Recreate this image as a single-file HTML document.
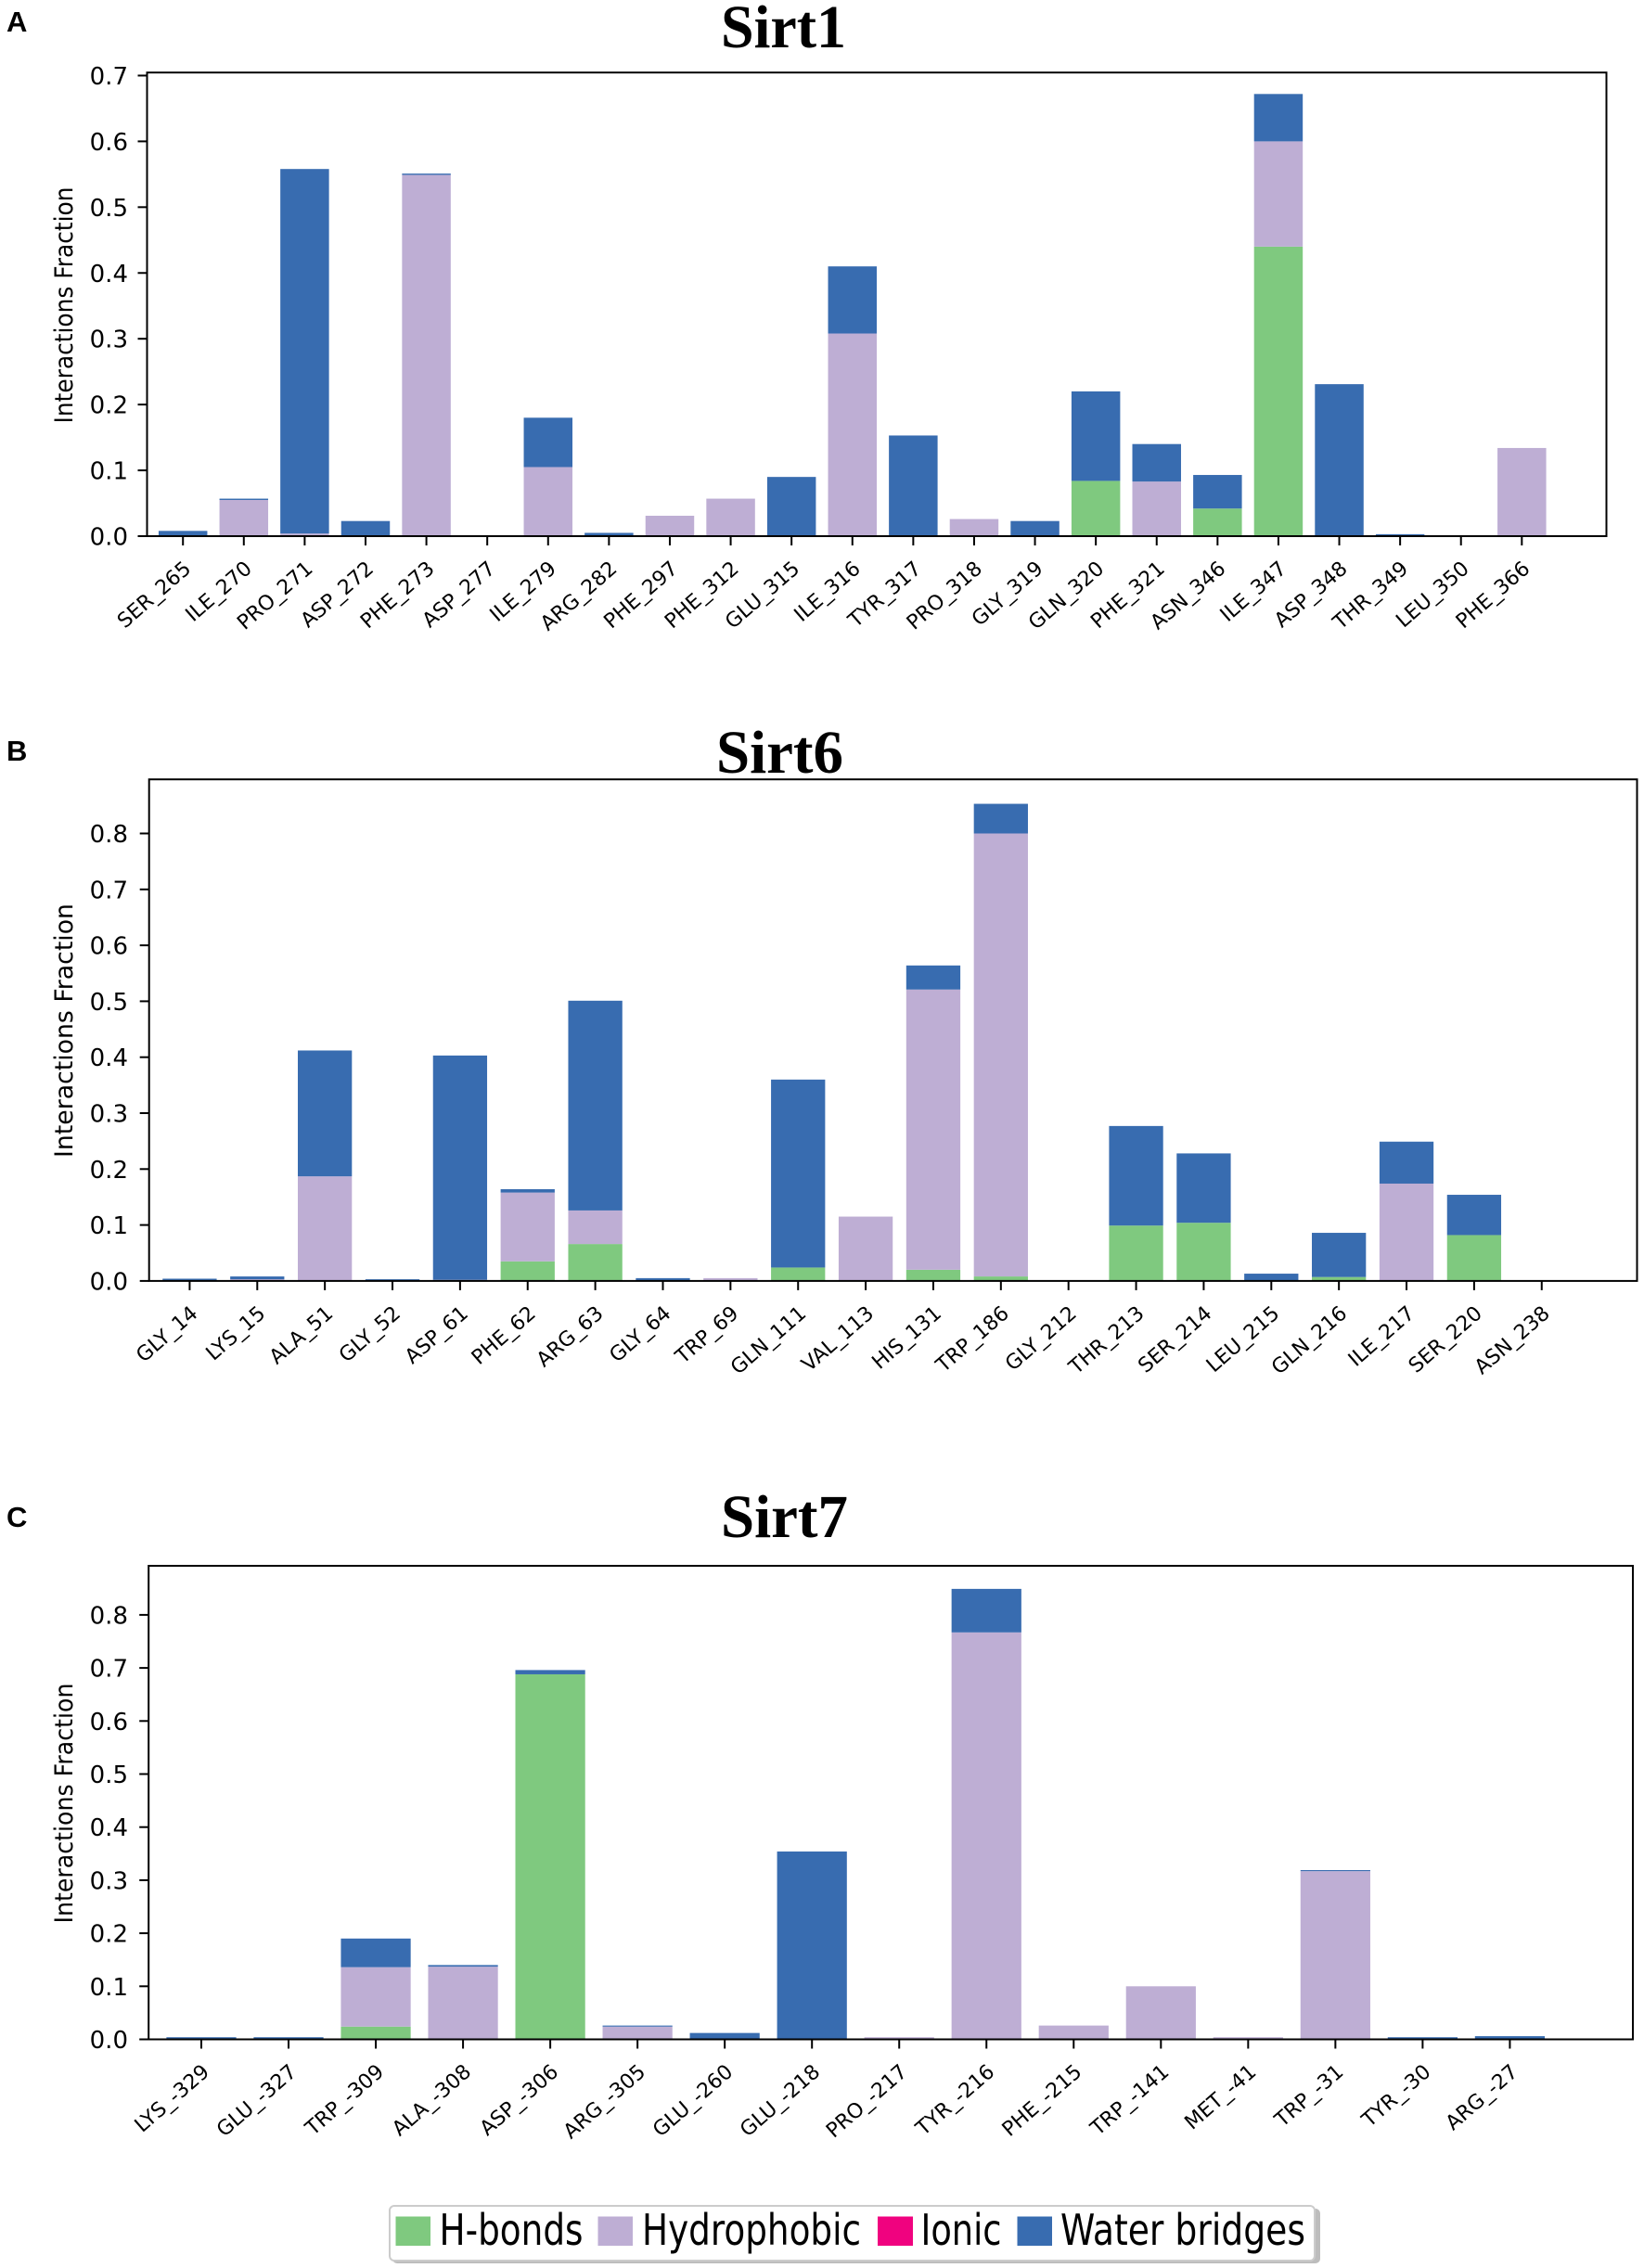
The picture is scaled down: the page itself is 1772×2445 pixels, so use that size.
<!DOCTYPE html>
<html lang="en">
<head>
<meta charset="utf-8">
<title>Sirt1, Sirt6 and Sirt7 interaction fractions</title>
<style>
html,body{margin:0;padding:0;background:#fff;}
svg{display:block;}
text{fill:#000;}
.title{font-family:"Liberation Serif",serif;font-weight:bold;font-size:66px;}
.letter{font-family:"Liberation Sans",sans-serif;font-weight:bold;font-size:31px;}
.tick{font-family:"DejaVu Sans",sans-serif;font-size:26px;}
.xtick{font-family:"DejaVu Sans",sans-serif;font-size:22px;}
.ylabel{font-family:"DejaVu Sans",sans-serif;font-size:27px;}
.legend{font-family:"DejaVu Sans",sans-serif;font-size:46px;}
</style>
</head>
<body>
<svg id="figure" xmlns="http://www.w3.org/2000/svg" width="1772" height="2445" viewBox="0 0 1772 2445">
  <rect x="0" y="0" width="1772" height="2445" fill="#fff"/>
  <text class="letter" x="7" y="34">A</text>
  <text class="letter" x="7" y="820">B</text>
  <text class="letter" x="7" y="1646">C</text>
  <text class="title" x="777" y="51" textLength="135" lengthAdjust="spacingAndGlyphs">Sirt1</text>
  <text class="title" x="772" y="833" textLength="137" lengthAdjust="spacingAndGlyphs">Sirt6</text>
  <text class="title" x="777" y="1657" textLength="137" lengthAdjust="spacingAndGlyphs">Sirt7</text>

  <g id="panel-a"></g>
  <g id="panel-b"></g>
  <g id="panel-c"></g>

  <g>
    <rect x="423" y="2381" width="1000" height="59" rx="5" fill="#bdbdbd"/>
    <rect x="420" y="2378" width="997" height="59" rx="5" fill="#fff" stroke="#cccccc" stroke-width="2"/>
    <g>
      <rect x="426.5" y="2389.5" width="37.5" height="31.5" fill="#7fc97f"/>
      <text class="legend" x="473.5" y="2420" textLength="155" lengthAdjust="spacingAndGlyphs">H-bonds</text>
    </g>
    <g>
      <rect x="644.5" y="2389.5" width="37.5" height="31.5" fill="#beaed4"/>
      <text class="legend" x="692" y="2420" textLength="236" lengthAdjust="spacingAndGlyphs">Hydrophobic</text>
    </g>
    <g>
      <rect x="946" y="2389.5" width="38" height="31.5" fill="#f0027f"/>
      <text class="legend" x="992.5" y="2420" textLength="87" lengthAdjust="spacingAndGlyphs">Ionic</text>
    </g>
    <g>
      <rect x="1096.5" y="2389.5" width="37.5" height="31.5" fill="#386cb0"/>
      <text class="legend" x="1143" y="2420" textLength="264" lengthAdjust="spacingAndGlyphs">Water bridges</text>
    </g>
  </g>
</svg>

<script>
const sirt1Residues = ["SER_265","ILE_270","PRO_271","ASP_272","PHE_273","ASP_277","ILE_279","ARG_282","PHE_297","PHE_312","GLU_315","ILE_316","TYR_317","PRO_318","GLY_319","GLN_320","PHE_321","ASN_346","ILE_347","ASP_348","THR_349","LEU_350","PHE_366"];
const sirt1Hbonds = [0,0,0,0,0,0,0,0,0,0,0,0,0,0,0,0.084,0,0.042,0.44,0,0,0,0];
const sirt1Hydrophobic = [0,0.055,0.004,0,0.549,0,0.105,0,0.031,0.057,0,0.308,0,0.026,0,0,0.083,0,0.16,0,0,0,0.134];
const sirt1Ionic = [0,0,0,0,0,0,0,0,0,0,0,0,0,0,0,0,0,0,0,0,0,0,0];
const sirt1Water = [0.008,0.002,0.554,0.023,0.002,0,0.075,0.005,0,0,0.09,0.102,0.153,0,0.023,0.136,0.057,0.051,0.072,0.231,0.003,0,0];
const sirt1Ticks = [0,0.1,0.2,0.3,0.4,0.5,0.6,0.7];

const sirt6Residues = ["GLY_14","LYS_15","ALA_51","GLY_52","ASP_61","PHE_62","ARG_63","GLY_64","TRP_69","GLN_111","VAL_113","HIS_131","TRP_186","GLY_212","THR_213","SER_214","LEU_215","GLN_216","ILE_217","SER_220","ASN_238"];
const sirt6Hbonds = [0,0,0,0,0,0.035,0.066,0,0,0.024,0,0.02,0.008,0,0.099,0.104,0,0.007,0,0.082,0];
const sirt6Hydrophobic = [0,0.003,0.187,0,0.002,0.123,0.06,0,0.005,0,0.115,0.501,0.792,0,0,0,0,0,0.174,0,0];
const sirt6Ionic = [0,0,0,0,0,0,0,0,0,0,0,0,0,0,0,0,0,0,0,0,0];
const sirt6Water = [0.004,0.005,0.225,0.003,0.401,0.006,0.375,0.005,0,0.336,0,0.043,0.053,0,0.178,0.124,0.013,0.079,0.075,0.072,0];
const sirt6Ticks = [0,0.1,0.2,0.3,0.4,0.5,0.6,0.7,0.8];

const sirt7Residues = ["LYS_-329","GLU_-327","TRP_-309","ALA_-308","ASP_-306","ARG_-305","GLU_-260","GLU_-218","PRO_-217","TYR_-216","PHE_-215","TRP_-141","MET_-41","TRP_-31","TYR_-30","ARG_-27"];
const sirt7Hbonds = [0,0,0.024,0,0.688,0,0,0,0,0,0,0,0,0,0,0];
const sirt7Hydrophobic = [0,0,0.112,0.137,0,0.024,0,0,0.004,0.767,0.026,0.1,0.004,0.317,0,0];
const sirt7Ionic = [0,0,0,0,0,0,0,0,0,0,0,0,0,0,0,0];
const sirt7Water = [0.004,0.004,0.054,0.003,0.008,0.002,0.012,0.354,0,0.082,0,0,0,0.002,0.004,0.006];
const sirt7Ticks = [0,0.1,0.2,0.3,0.4,0.5,0.6,0.7,0.8];

const seriesColors = ["#7fc97f","#beaed4","#f0027f","#386cb0"];
const seriesKeys = ["h-bonds","hydrophobic","ionic","water-bridges"];
const NS = "http://www.w3.org/2000/svg";

function svgEl(tag, parent) {
  const el = document.createElementNS(NS, tag);
  parent.appendChild(el);
  return el;
}

function drawPanel(root, prefix, residues, hbonds, hydrophobic, ionic, water, ticks, box, xDomain, yMax, labelBox) {
  const xScale = function (v) {
    return box.left + (v - xDomain[0]) / (xDomain[1] - xDomain[0]) * (box.right - box.left);
  };
  const yScale = function (v) {
    return box.bottom - v / yMax * (box.bottom - box.top);
  };
  const barWidth = Math.abs(xScale(0.8) - xScale(0));
  const stacks = [hbonds, hydrophobic, ionic, water];

  residues.forEach(function (res, i) {
    let base = 0;
    stacks.forEach(function (series, s) {
      const v = series[i];
      if (v <= 0) return;
      const rect = svgEl("rect", root);
      
      
      rect.setAttribute("x", xScale(i) - barWidth / 2);
      rect.setAttribute("width", barWidth);
      rect.setAttribute("y", yScale(base + v));
      rect.setAttribute("height", yScale(base) - yScale(base + v));
      rect.setAttribute("fill", seriesColors[s]);
      base += v;
    });
  });

  const frame = svgEl("rect", root);
  
  
  frame.setAttribute("x", box.left);
  frame.setAttribute("y", box.top);
  frame.setAttribute("width", box.right - box.left);
  frame.setAttribute("height", box.bottom - box.top);
  frame.setAttribute("fill", "none");
  frame.setAttribute("stroke", "#000");
  frame.setAttribute("stroke-width", "2");

  ticks.forEach(function (t) {
    const y = yScale(t);
    const mark = svgEl("line", root);
    
    
    mark.setAttribute("x1", box.left - 10);
    mark.setAttribute("x2", box.left);
    mark.setAttribute("y1", y);
    mark.setAttribute("y2", y);
    mark.setAttribute("stroke", "#000");
    mark.setAttribute("stroke-width", "2");
    const label = svgEl("text", root);
    
    
    label.setAttribute("class", "tick");
    label.setAttribute("x", 138);
    label.setAttribute("y", y + 9.5);
    label.setAttribute("text-anchor", "end");
    label.textContent = t.toFixed(1);
  });

  residues.forEach(function (res, i) {
    const x = xScale(i);
    const mark = svgEl("line", root);
    
    
    mark.setAttribute("x1", x);
    mark.setAttribute("x2", x);
    mark.setAttribute("y1", box.bottom);
    mark.setAttribute("y2", box.bottom + 10);
    mark.setAttribute("stroke", "#000");
    mark.setAttribute("stroke-width", "2");
    const label = svgEl("text", root);
    
    
    label.setAttribute("class", "xtick");
    const lx = x + 10;
    const ly = box.bottom + 37;
    label.setAttribute("x", lx);
    label.setAttribute("y", ly);
    label.setAttribute("text-anchor", "end");
    label.setAttribute("transform", "rotate(-41 " + lx + " " + ly + ")");
    label.textContent = res;
  });

  const title = svgEl("text", root);
  
  
  title.setAttribute("class", "ylabel");
  const tx = 78;
  title.setAttribute("x", tx);
  title.setAttribute("y", labelBox.center);
  title.setAttribute("text-anchor", "middle");
  title.setAttribute("textLength", labelBox.length);
  title.setAttribute("lengthAdjust", "spacingAndGlyphs");
  title.setAttribute("transform", "rotate(-90 " + tx + " " + labelBox.center + ")");
  title.textContent = "Interactions Fraction";
}

drawPanel(document.getElementById("panel-a"), "sirt1", sirt1Residues, sirt1Hbonds, sirt1Hydrophobic, sirt1Ionic, sirt1Water, sirt1Ticks,
  {left:158.5, right:1731.5, top:78.2, bottom:578}, [-0.59, 23.39], 0.7046, {center:329, length:255});
drawPanel(document.getElementById("panel-b"), "sirt6", sirt6Residues, sirt6Hbonds, sirt6Hydrophobic, sirt6Ionic, sirt6Water, sirt6Ticks,
  {left:160.7, right:1764.5, top:840.2, bottom:1380.9}, [-0.6, 21.41], 0.8967, {center:1111, length:274});
drawPanel(document.getElementById("panel-c"), "sirt7", sirt7Residues, sirt7Hbonds, sirt7Hydrophobic, sirt7Ionic, sirt7Water, sirt7Ticks,
  {left:160.2, right:1760, top:1688, bottom:2198.5}, [-0.604, 16.41], 0.8925, {center:1944, length:259});
</script>
</body>
</html>
